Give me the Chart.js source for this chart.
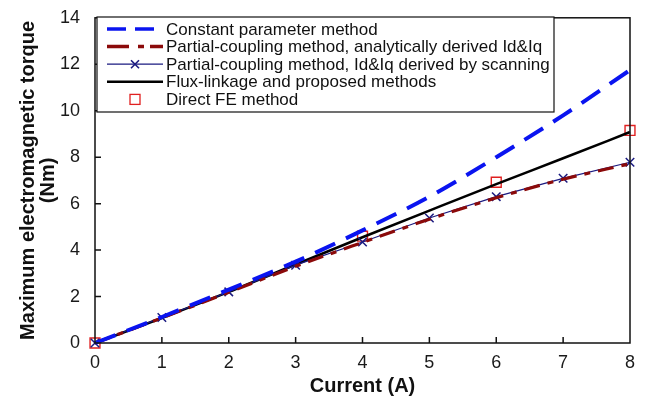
<!DOCTYPE html>
<html>
<head>
<meta charset="utf-8">
<script src="https://cdn.jsdelivr.net/npm/chart.js@4"></script>
<style>
  body { margin: 0; background: #fff; }
  canvas { display: block; }
</style>
</head>
<body>
<canvas id="torque" width="651" height="398"></canvas>
<script>
// values
const current = [0, 1, 2, 3, 4, 5, 6, 7, 8];
const constantParam = [0, 1.12, 2.3, 3.5, 4.85, 6.3, 8.0, 9.8, 11.75];
const partialAnalytic = [0, 1.08, 2.18, 3.3, 4.33, 5.33, 6.25, 7.05, 7.72];
const partialScan = [0, 1.1, 2.2, 3.35, 4.35, 5.38, 6.3, 7.09, 7.78];
const fluxLinkage = [0, 1.08, 2.2, 3.38, 4.55, 5.7, 6.84, 7.95, 9.08];
const feCurrent = [0, 4, 6, 8];
const directFE = [0, 4.6, 6.92, 9.15];

const xTicks = [0, 1, 2, 3, 4, 5, 6, 7, 8];
const yTicks = [0, 2, 4, 6, 8, 10, 12, 14];

const pts = (xs, ys) => xs.map((x, i) => ({ x: x, y: ys[i] }));
const FONT = '"Liberation Sans", Arial, sans-serif';

const legendItems = [
  { text: 'Constant parameter method', color: '#0a14f0', width: 3.5, dash: [19, 9] },
  { text: 'Partial-coupling method, analytically derived Id&Iq', color: '#8b0a0a', width: 3.5, dash: [22, 9, 6, 6] },
  { text: 'Partial-coupling method, Id&Iq derived by scanning', color: '#1a1a80', width: 1.2, dash: [], marker: 'x' },
  { text: 'Flux-linkage and proposed methods', color: '#000', width: 2.5, dash: [] },
  { text: 'Direct FE method', color: '#e02020', width: 0, dash: [], marker: 'sq' }
];

// frame, inward ticks and the legend box like the original figure
const framePlugin = {
  id: 'frame',
  afterDraw(chart) {
    const c = chart.ctx;
    const a = chart.chartArea;
    const xs = chart.scales.x, ys = chart.scales.y;
    c.save();
    c.strokeStyle = '#111';
    c.lineWidth = 1.5;
    c.strokeRect(a.left, a.top, a.right - a.left, a.bottom - a.top);
    c.beginPath();
    xTicks.slice(1, -1).forEach(v => {
      const px = xs.getPixelForValue(v);
      c.moveTo(px, a.bottom);
      c.lineTo(px, a.bottom - 6);
    });
    yTicks.slice(1, -1).forEach(v => {
      const py = ys.getPixelForValue(v);
      c.moveTo(a.left, py);
      c.lineTo(a.left + 6, py);
    });
    c.stroke();

    // legend
    const bx = 97, by = 17, bw = 457, bh = 95;
    c.fillStyle = '#fff';
    c.fillRect(bx, by, bw, bh);
    c.lineWidth = 1.2;
    c.strokeStyle = '#111';
    c.strokeRect(bx, by, bw, bh);
    c.font = '17px ' + FONT;
    c.textBaseline = 'middle';
    legendItems.forEach((it, i) => {
      const y = 29 + i * 17.6;
      const x0 = 107, x1 = 163;
      if (it.width > 0) {
        c.beginPath();
        c.setLineDash(it.dash);
        c.strokeStyle = it.color;
        c.lineWidth = it.width;
        c.moveTo(x0, y);
        c.lineTo(x1, y);
        c.stroke();
        c.setLineDash([]);
      }
      const mx = (x0 + x1) / 2;
      if (it.marker === 'x') {
        c.beginPath();
        c.strokeStyle = it.color;
        c.lineWidth = 1.6;
        c.moveTo(mx - 4, y - 4); c.lineTo(mx + 4, y + 4);
        c.moveTo(mx - 4, y + 4); c.lineTo(mx + 4, y - 4);
        c.stroke();
      } else if (it.marker === 'sq') {
        c.strokeStyle = it.color;
        c.lineWidth = 1.3;
        c.strokeRect(mx - 5, y - 5, 10, 10);
      }
      c.fillStyle = '#111';
      c.fillText(it.text, 166, y + 1);
    });
    c.restore();
  }
};

new Chart(document.getElementById('torque'), {
  type: 'scatter',
  data: {
    datasets: [
      {
        label: 'Constant parameter method',
        data: pts(current, constantParam),
        showLine: true,
        borderColor: '#0a14f0',
        borderWidth: 4,
        borderDash: [22, 12],
        pointRadius: 0,
        cubicInterpolationMode: 'monotone'
      },
      {
        label: 'Partial-coupling method, analytically derived Id&Iq',
        data: pts(current, partialAnalytic),
        showLine: true,
        borderColor: '#8b0a0a',
        borderWidth: 3.2,
        borderDash: [16, 8, 6, 8],
        pointRadius: 0,
        cubicInterpolationMode: 'monotone'
      },
      {
        label: 'Partial-coupling method, Id&Iq derived by scanning',
        data: pts(current, partialScan),
        showLine: true,
        borderColor: '#1a1a80',
        backgroundColor: '#1a1a80',
        borderWidth: 1.2,
        pointStyle: 'crossRot',
        pointRadius: 6,
        pointBorderWidth: 1.5
      },
      {
        label: 'Flux-linkage and proposed methods',
        data: pts(current, fluxLinkage),
        showLine: true,
        borderColor: '#000',
        borderWidth: 2.6,
        pointRadius: 0,
        cubicInterpolationMode: 'monotone'
      },
      {
        label: 'Direct FE method',
        data: pts(feCurrent, directFE),
        showLine: false,
        pointStyle: 'rect',
        pointRadius: 7,
        borderColor: '#e02020',
        backgroundColor: 'rgba(0,0,0,0)',
        pointBorderWidth: 1.4
      }
    ]
  },
  options: {
    responsive: false,
    animation: false,
    clip: false,
    layout: { padding: { top: 15, right: 21, left: 18, bottom: 0 } },
    plugins: {
      legend: { display: false },
      tooltip: { enabled: false }
    },
    scales: {
      x: {
        type: 'linear',
        min: 0,
        max: 8,
        afterFit: s => { s.height = 55; },
        afterBuildTicks: s => { s.ticks = xTicks.map(v => ({ value: v })); },
        grid: { display: false },
        border: { display: false },
        ticks: {
          color: '#1a1a1a',
          padding: 1,
          font: { size: 18, family: FONT }
        },
        title: {
          display: true,
          text: 'Current (A)',
          color: '#111',
          padding: { top: 0, bottom: 1 },
          font: { size: 20, weight: 'bold', family: FONT, lineHeight: 1.1 }
        }
      },
      y: {
        min: 0,
        max: 14,
        afterFit: s => { s.width = 77; },
        afterBuildTicks: s => { s.ticks = yTicks.map(v => ({ value: v })); },
        grid: { display: false },
        border: { display: false },
        ticks: {
          color: '#1a1a1a',
          padding: 7,
          font: { size: 18, family: FONT }
        },
        title: {
          display: true,
          text: ['Maximum electromagnetic torque', '(Nm)'],
          color: '#111',
          padding: { top: 0, bottom: 2 },
          font: { size: 20, weight: 'bold', family: FONT, lineHeight: 1.0 }
        }
      }
    }
  },
  plugins: [framePlugin]
});
</script>
</body>
</html>
